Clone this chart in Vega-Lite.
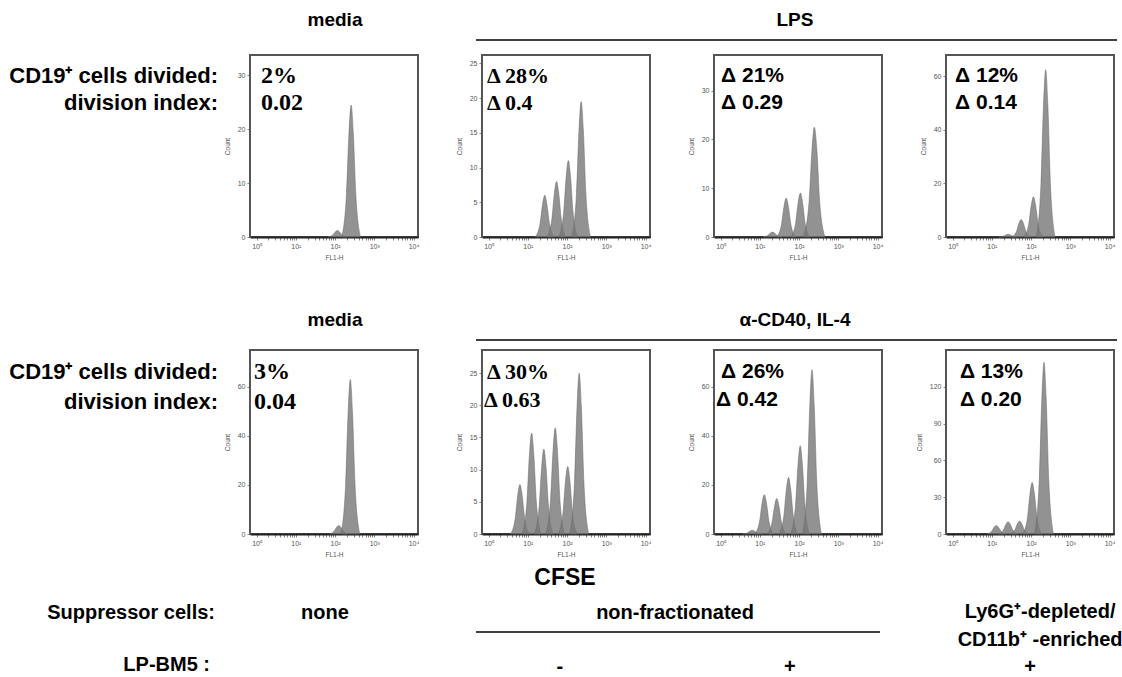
{
"$schema": "https://vega.github.io/schema/vega-lite/v6.json",
"padding": 0,
"background": "white",
"bounds": "flush",
"align": "each",
"columns": 5,
"spacing": {"row": 0, "column": 64},
"config": {
 "view": {"stroke": null},
 "axis": {"grid": false, "labelFont": "Liberation Sans", "labelFontSize": 7, "labelColor": "#555", "tickColor": "#666", "tickSize": 3, "tickWidth": 0.8, "domainColor": "#555", "titleFont": "Liberation Sans", "titleFontSize": 6.5, "titleFontWeight": "normal", "titleColor": "#555", "labelPadding": 2},
 "axisX": {"domainColor": "#222", "domainWidth": 2, "titlePadding": 5, "labelOverlap": false},
 "axisY": {"titlePadding": 7},
 "text": {"font": "Liberation Sans Narrow, Arial Narrow, Liberation Sans", "fontWeight": "bold", "color": "#000", "baseline": "middle"}
},
"datasets": {
 "h": [
 {"p":"a1","g":0,"x":66.1,"y":0},{"p":"a1","g":0,"x":87.3,"y":0.38},{"p":"a1","g":0,"x":101.3,"y":0.95},{"p":"a1","g":0,"x":115,"y":1.2},{"p":"a1","g":0,"x":130.5,"y":0.95},{"p":"a1","g":0,"x":151.6,"y":0.38},{"p":"a1","g":0,"x":199.9,"y":0},
 {"p":"a1","g":1,"x":147.8,"y":0},{"p":"a1","g":1,"x":195.1,"y":7.84},{"p":"a1","g":1,"x":226.4,"y":19.36},{"p":"a1","g":1,"x":257,"y":24.5},{"p":"a1","g":1,"x":291.7,"y":19.36},{"p":"a1","g":1,"x":338.7,"y":7.84},{"p":"a1","g":1,"x":446.7,"y":0},
 {"p":"a2","g":1,"x":15.5,"y":0},{"p":"a2","g":1,"x":20.5,"y":1.92},{"p":"a2","g":1,"x":23.8,"y":4.74},{"p":"a2","g":1,"x":27,"y":6},{"p":"a2","g":1,"x":30.6,"y":4.74},{"p":"a2","g":1,"x":35.6,"y":1.92},{"p":"a2","g":1,"x":46.9,"y":0},
 {"p":"a2","g":2,"x":31.1,"y":0},{"p":"a2","g":2,"x":41,"y":2.56},{"p":"a2","g":2,"x":47.6,"y":6.32},{"p":"a2","g":2,"x":54,"y":8},{"p":"a2","g":2,"x":61.3,"y":6.32},{"p":"a2","g":2,"x":71.2,"y":2.56},{"p":"a2","g":2,"x":93.9,"y":0},
 {"p":"a2","g":3,"x":62.1,"y":0},{"p":"a2","g":3,"x":82,"y":3.52},{"p":"a2","g":3,"x":95.1,"y":8.69},{"p":"a2","g":3,"x":108,"y":11},{"p":"a2","g":3,"x":122.6,"y":8.69},{"p":"a2","g":3,"x":142.3,"y":3.52},{"p":"a2","g":3,"x":187.7,"y":0},
 {"p":"a2","g":4,"x":131.7,"y":0},{"p":"a2","g":4,"x":173.8,"y":6.24},{"p":"a2","g":4,"x":201.7,"y":15.41},{"p":"a2","g":4,"x":229,"y":19.5},{"p":"a2","g":4,"x":259.9,"y":15.41},{"p":"a2","g":4,"x":301.8,"y":6.24},{"p":"a2","g":4,"x":398,"y":0},
 {"p":"a3","g":1,"x":12.1,"y":0},{"p":"a3","g":1,"x":15.9,"y":0.32},{"p":"a3","g":1,"x":18.5,"y":0.79},{"p":"a3","g":1,"x":21,"y":1},{"p":"a3","g":1,"x":23.8,"y":0.79},{"p":"a3","g":1,"x":27.7,"y":0.32},{"p":"a3","g":1,"x":36.5,"y":0},
 {"p":"a3","g":2,"x":27,"y":0},{"p":"a3","g":2,"x":35.7,"y":2.56},{"p":"a3","g":2,"x":41.4,"y":6.32},{"p":"a3","g":2,"x":47,"y":8},{"p":"a3","g":2,"x":53.3,"y":6.32},{"p":"a3","g":2,"x":61.9,"y":2.56},{"p":"a3","g":2,"x":81.7,"y":0},
 {"p":"a3","g":3,"x":62.1,"y":0},{"p":"a3","g":3,"x":82,"y":2.88},{"p":"a3","g":3,"x":95.1,"y":7.11},{"p":"a3","g":3,"x":108,"y":9},{"p":"a3","g":3,"x":122.6,"y":7.11},{"p":"a3","g":3,"x":142.3,"y":2.88},{"p":"a3","g":3,"x":187.7,"y":0},
 {"p":"a3","g":4,"x":130,"y":0},{"p":"a3","g":4,"x":180,"y":7.2},{"p":"a3","g":4,"x":213,"y":17.78},{"p":"a3","g":4,"x":245,"y":22.5},{"p":"a3","g":4,"x":285,"y":17.78},{"p":"a3","g":4,"x":335,"y":7.2},{"p":"a3","g":4,"x":460,"y":0},
 {"p":"a4","g":1,"x":15,"y":0},{"p":"a4","g":1,"x":19.7,"y":0.32},{"p":"a4","g":1,"x":22.9,"y":0.79},{"p":"a4","g":1,"x":26,"y":1},{"p":"a4","g":1,"x":29.5,"y":0.79},{"p":"a4","g":1,"x":34.3,"y":0.32},{"p":"a4","g":1,"x":45.2,"y":0},
 {"p":"a4","g":2,"x":32.2,"y":0},{"p":"a4","g":2,"x":42.5,"y":2.08},{"p":"a4","g":2,"x":49.3,"y":5.14},{"p":"a4","g":2,"x":56,"y":6.5},{"p":"a4","g":2,"x":63.6,"y":5.14},{"p":"a4","g":2,"x":73.8,"y":2.08},{"p":"a4","g":2,"x":97.3,"y":0},
 {"p":"a4","g":3,"x":66.1,"y":0},{"p":"a4","g":3,"x":87.3,"y":4.8},{"p":"a4","g":3,"x":101.3,"y":11.85},{"p":"a4","g":3,"x":115,"y":15},{"p":"a4","g":3,"x":130.5,"y":11.85},{"p":"a4","g":3,"x":151.6,"y":4.8},{"p":"a4","g":3,"x":199.9,"y":0},
 {"p":"a4","g":4,"x":135.7,"y":0},{"p":"a4","g":4,"x":179.1,"y":20},{"p":"a4","g":4,"x":207.9,"y":49.38},{"p":"a4","g":4,"x":236,"y":62.5},{"p":"a4","g":4,"x":267.9,"y":49.38},{"p":"a4","g":4,"x":311,"y":20},{"p":"a4","g":4,"x":410.2,"y":0},
 {"p":"b1","g":0,"x":71.3,"y":0},{"p":"b1","g":0,"x":94.1,"y":1.12},{"p":"b1","g":0,"x":109.2,"y":2.77},{"p":"b1","g":0,"x":124,"y":3.5},{"p":"b1","g":0,"x":140.7,"y":2.77},{"p":"b1","g":0,"x":163.4,"y":1.12},{"p":"b1","g":0,"x":215.5,"y":0},
 {"p":"b1","g":1,"x":140.9,"y":0},{"p":"b1","g":1,"x":186,"y":20.16},{"p":"b1","g":1,"x":215.8,"y":49.77},{"p":"b1","g":1,"x":245,"y":63},{"p":"b1","g":1,"x":278.1,"y":49.77},{"p":"b1","g":1,"x":322.9,"y":20.16},{"p":"b1","g":1,"x":425.8,"y":0},
 {"p":"b2","g":1,"x":3.62,"y":0},{"p":"b2","g":1,"x":4.78,"y":2.46},{"p":"b2","g":1,"x":5.55,"y":6.08},{"p":"b2","g":1,"x":6.3,"y":7.7},{"p":"b2","g":1,"x":7.15,"y":6.08},{"p":"b2","g":1,"x":8.3,"y":2.46},{"p":"b2","g":1,"x":10.95,"y":0},
 {"p":"b2","g":2,"x":7.19,"y":0},{"p":"b2","g":2,"x":9.49,"y":5.02},{"p":"b2","g":2,"x":11.01,"y":12.4},{"p":"b2","g":2,"x":12.5,"y":15.7},{"p":"b2","g":2,"x":14.19,"y":12.4},{"p":"b2","g":2,"x":16.48,"y":5.02},{"p":"b2","g":2,"x":21.73,"y":0},
 {"p":"b2","g":3,"x":14.72,"y":0},{"p":"b2","g":3,"x":19.43,"y":4.22},{"p":"b2","g":3,"x":22.55,"y":10.43},{"p":"b2","g":3,"x":25.6,"y":13.2},{"p":"b2","g":3,"x":29.06,"y":10.43},{"p":"b2","g":3,"x":33.74,"y":4.22},{"p":"b2","g":3,"x":44.49,"y":0},
 {"p":"b2","g":4,"x":28.75,"y":0},{"p":"b2","g":4,"x":37.95,"y":5.28},{"p":"b2","g":4,"x":44.05,"y":13.04},{"p":"b2","g":4,"x":50,"y":16.5},{"p":"b2","g":4,"x":56.75,"y":13.04},{"p":"b2","g":4,"x":65.9,"y":5.28},{"p":"b2","g":4,"x":86.9,"y":0},
 {"p":"b2","g":5,"x":59.8,"y":0},{"p":"b2","g":5,"x":78.9,"y":3.36},{"p":"b2","g":5,"x":91.6,"y":8.3},{"p":"b2","g":5,"x":104,"y":10.5},{"p":"b2","g":5,"x":118,"y":8.3},{"p":"b2","g":5,"x":137.1,"y":3.36},{"p":"b2","g":5,"x":180.8,"y":0},
 {"p":"b2","g":6,"x":117.3,"y":0},{"p":"b2","g":6,"x":154.8,"y":8},{"p":"b2","g":6,"x":179.7,"y":19.75},{"p":"b2","g":6,"x":204,"y":25},{"p":"b2","g":6,"x":231.5,"y":19.75},{"p":"b2","g":6,"x":268.9,"y":8},{"p":"b2","g":6,"x":354.6,"y":0},
 {"p":"b3","g":1,"x":3.68,"y":0},{"p":"b3","g":1,"x":4.86,"y":0.48},{"p":"b3","g":1,"x":5.64,"y":1.19},{"p":"b3","g":1,"x":6.4,"y":1.5},{"p":"b3","g":1,"x":7.26,"y":1.19},{"p":"b3","g":1,"x":8.44,"y":0.48},{"p":"b3","g":1,"x":11.12,"y":0},
 {"p":"b3","g":2,"x":7.48,"y":0},{"p":"b3","g":2,"x":9.87,"y":5.12},{"p":"b3","g":2,"x":11.45,"y":12.64},{"p":"b3","g":2,"x":13,"y":16},{"p":"b3","g":2,"x":14.76,"y":12.64},{"p":"b3","g":2,"x":17.13,"y":5.12},{"p":"b3","g":2,"x":22.59,"y":0},
 {"p":"b3","g":3,"x":15.53,"y":0},{"p":"b3","g":3,"x":20.49,"y":4.64},{"p":"b3","g":3,"x":23.79,"y":11.46},{"p":"b3","g":3,"x":27,"y":14.5},{"p":"b3","g":3,"x":30.65,"y":11.46},{"p":"b3","g":3,"x":35.59,"y":4.64},{"p":"b3","g":3,"x":46.93,"y":0},
 {"p":"b3","g":4,"x":31.05,"y":0},{"p":"b3","g":4,"x":40.99,"y":7.36},{"p":"b3","g":4,"x":47.57,"y":18.17},{"p":"b3","g":4,"x":54,"y":23},{"p":"b3","g":4,"x":61.29,"y":18.17},{"p":"b3","g":4,"x":71.17,"y":7.36},{"p":"b3","g":4,"x":93.85,"y":0},
 {"p":"b3","g":5,"x":61.5,"y":0},{"p":"b3","g":5,"x":81.2,"y":11.52},{"p":"b3","g":5,"x":94.3,"y":28.44},{"p":"b3","g":5,"x":107,"y":36},{"p":"b3","g":5,"x":121.4,"y":28.44},{"p":"b3","g":5,"x":141,"y":11.52},{"p":"b3","g":5,"x":186,"y":0},
 {"p":"b3","g":6,"x":123.1,"y":0},{"p":"b3","g":6,"x":162.4,"y":21.44},{"p":"b3","g":6,"x":188.5,"y":52.93},{"p":"b3","g":6,"x":214,"y":67},{"p":"b3","g":6,"x":242.9,"y":52.93},{"p":"b3","g":6,"x":282.1,"y":21.44},{"p":"b3","g":6,"x":371.9,"y":0},
 {"p":"b4","g":1,"x":7.48,"y":0},{"p":"b4","g":1,"x":9.87,"y":2.24},{"p":"b4","g":1,"x":11.45,"y":5.53},{"p":"b4","g":1,"x":13,"y":7},{"p":"b4","g":1,"x":14.76,"y":5.53},{"p":"b4","g":1,"x":17.13,"y":2.24},{"p":"b4","g":1,"x":22.59,"y":0},
 {"p":"b4","g":2,"x":14.95,"y":0},{"p":"b4","g":2,"x":19.73,"y":3.2},{"p":"b4","g":2,"x":22.91,"y":7.9},{"p":"b4","g":2,"x":26,"y":10},{"p":"b4","g":2,"x":29.51,"y":7.9},{"p":"b4","g":2,"x":34.27,"y":3.2},{"p":"b4","g":2,"x":45.19,"y":0},
 {"p":"b4","g":3,"x":29.3,"y":0},{"p":"b4","g":3,"x":38.7,"y":3.36},{"p":"b4","g":3,"x":44.9,"y":8.3},{"p":"b4","g":3,"x":51,"y":10.5},{"p":"b4","g":3,"x":57.9,"y":8.3},{"p":"b4","g":3,"x":67.2,"y":3.36},{"p":"b4","g":3,"x":88.6,"y":0},
 {"p":"b4","g":4,"x":61.5,"y":0},{"p":"b4","g":4,"x":81.2,"y":13.44},{"p":"b4","g":4,"x":94.3,"y":33.18},{"p":"b4","g":4,"x":107,"y":42},{"p":"b4","g":4,"x":121.4,"y":33.18},{"p":"b4","g":4,"x":141,"y":13.44},{"p":"b4","g":4,"x":186,"y":0},
 {"p":"b4","g":5,"x":123.1,"y":0},{"p":"b4","g":5,"x":162.4,"y":44.8},{"p":"b4","g":5,"x":188.5,"y":110.6},{"p":"b4","g":5,"x":214,"y":140},{"p":"b4","g":5,"x":242.9,"y":110.6},{"p":"b4","g":5,"x":282.1,"y":44.8},{"p":"b4","g":5,"x":371.9,"y":0}
 ],
 "ann": [
 {"p":"a1","pct":"2%","di":"0.02"},{"p":"a2","pct":"Δ 28%","di":"Δ 0.4"},{"p":"a3","pct":"Δ 21%","di":"Δ 0.29"},{"p":"a4","pct":"Δ 12%","di":"Δ 0.14"},
 {"p":"b1","pct":"3%","di":"0.04"},{"p":"b2","pct":"Δ 30%","di":"Δ 0.63"},{"p":"b3","pct":"Δ 26%","di":"Δ 0.42"},{"p":"b4","pct":"Δ 13%","di":"Δ 0.20"}
 ],
 "txt": [
 {"id":"m1","t":"media"},{"id":"lps","t":"LPS"},{"id":"m2","t":"media"},{"id":"cd40","t":"α-CD40, IL-4"},
 {"id":"lab","a":"CD19⁺ cells divided:","b":"division index:"},
 {"id":"cfse","t":"CFSE"},{"id":"sup","t":"Suppressor cells:"},{"id":"none","t":"none"},{"id":"nf","t":"non-fractionated"},
 {"id":"ly","t":"Ly6G⁺-depleted/"},{"id":"cd11","t":"CD11b⁺ -enriched"},{"id":"lp","t":"LP-BM5 :"},
 {"id":"minus","t":"-"},{"id":"plus1","t":"+"},{"id":"plus2","t":"+"}
 ]
},
"concat": [
 {"width": 186, "height": 55, "data": {"name": "txt"}, "transform": [{"filter": "datum.id == 'nothing'"}], "mark": "text", "encoding": {}},
 {"width": 168, "height": 55, "data": {"name": "txt"}, "transform": [{"filter": "datum.id == 'm1'"}],
  "mark": {"type": "text", "fontSize": 19},
  "encoding": {"text": {"field": "t"}, "x": {"datum": 0.506, "type": "quantitative", "scale": {"domain": [0, 1]}, "axis": null}, "y": {"datum": 0.636, "type": "quantitative", "scale": {"domain": [0, 1]}, "axis": null}}},
 {"width": 168, "height": 55, "data": {"name": "txt"}, "transform": [{"filter": "datum.id == 'lps'"}],
  "layer": [
   {"mark": {"type": "text", "fontSize": 19},
    "encoding": {"text": {"field": "t"}, "x": {"datum": 1.863, "type": "quantitative", "scale": {"domain": [0, 1]}, "axis": null}, "y": {"datum": 0.636, "type": "quantitative", "scale": {"domain": [0, 1]}, "axis": null}}},
   {"mark": {"type": "rule", "color": "#000", "strokeWidth": 1.5},
    "encoding": {"x": {"datum": -0.036, "type": "quantitative", "scale": {"domain": [0, 1]}, "axis": null}, "x2": {"datum": 3.78}, "y": {"datum": 0.273, "type": "quantitative", "scale": {"domain": [0, 1]}, "axis": null}}}
  ]},
 {"width": 168, "height": 55, "data": {"name": "txt"}, "transform": [{"filter": "datum.id == 'nothing'"}], "mark": "text", "encoding": {}},
 {"width": 168, "height": 55, "data": {"name": "txt"}, "transform": [{"filter": "datum.id == 'nothing'"}], "mark": "text", "encoding": {}},

 {"width": 186, "height": 182, "data": {"name": "txt"}, "transform": [{"filter": "datum.id == 'lab'"}],
  "layer": [
   {"mark": {"type": "text", "fontSize": 22, "align": "right"},
    "encoding": {"text": {"field": "a"}, "x": {"datum": 1.172, "type": "quantitative", "scale": {"domain": [0, 1]}, "axis": null}, "y": {"datum": 0.885, "type": "quantitative", "scale": {"domain": [0, 1]}, "axis": null}}},
   {"mark": {"type": "text", "fontSize": 22, "align": "right"},
    "encoding": {"text": {"field": "b"}, "x": {"datum": 1.172, "type": "quantitative", "scale": {"domain": [0, 1]}, "axis": null}, "y": {"datum": 0.736, "type": "quantitative", "scale": {"domain": [0, 1]}, "axis": null}}}
  ]},
 {"width": 168, "height": 182, "view": {"stroke": "#555", "strokeWidth": 2},
  "layer": [
   {"data": {"name": "h"}, "transform": [{"filter": "datum.p == 'a1'"}],
    "mark": {"type": "area", "interpolate": "monotone", "fill": "#777", "fillOpacity": 0.8, "stroke": "#666", "strokeWidth": 0.5},
    "encoding": {
     "x": {"field": "x", "type": "quantitative", "scale": {"type": "log", "domain": [0.68, 13000], "nice": false}, "axis": {"title": "FL1-H", "values": [1,2,3,4,5,6,7,8,9,10,20,30,40,50,60,70,80,90,100,200,300,400,500,600,700,800,900,1000,2000,3000,4000,5000,6000,7000,8000,9000,10000], "labelExpr": "datum.value == 1 ? '10⁰' : datum.value == 10 ? '10¹' : datum.value == 100 ? '10²' : datum.value == 1000 ? '10³' : datum.value == 10000 ? '10⁴' : ''"}},
     "y": {"field": "y", "type": "quantitative", "stack": null, "scale": {"domain": [0, 33.8], "nice": false}, "axis": {"title": "Count", "values": [0, 10, 20, 30]}},
     "detail": {"field": "g"}}},
   {"data": {"name": "ann"}, "transform": [{"filter": "datum.p == 'a1'"}],
    "mark": {"type": "text", "align": "left", "font": "Liberation Serif", "fontSize": 24},
    "encoding": {"text": {"field": "pct"}, "x": {"datum": 0.065, "type": "quantitative", "scale": {"domain": [0, 1]}, "axis": null}, "y": {"datum": 0.885, "type": "quantitative", "scale": {"domain": [0, 1]}, "axis": null}}},
   {"data": {"name": "ann"}, "transform": [{"filter": "datum.p == 'a1'"}],
    "mark": {"type": "text", "align": "left", "font": "Liberation Serif", "fontSize": 24},
    "encoding": {"text": {"field": "di"}, "x": {"datum": 0.065, "type": "quantitative", "scale": {"domain": [0, 1]}, "axis": null}, "y": {"datum": 0.736, "type": "quantitative", "scale": {"domain": [0, 1]}, "axis": null}}}
  ],
  "resolve": {"scale": {"x": "independent", "y": "independent"}}},
 {"width": 168, "height": 182, "view": {"stroke": "#555", "strokeWidth": 2},
  "layer": [
   {"data": {"name": "h"}, "transform": [{"filter": "datum.p == 'a2'"}],
    "mark": {"type": "area", "interpolate": "monotone", "fill": "#777", "fillOpacity": 0.8, "stroke": "#666", "strokeWidth": 0.5},
    "encoding": {
     "x": {"field": "x", "type": "quantitative", "scale": {"type": "log", "domain": [0.68, 13000], "nice": false}, "axis": {"title": "FL1-H", "values": [1,2,3,4,5,6,7,8,9,10,20,30,40,50,60,70,80,90,100,200,300,400,500,600,700,800,900,1000,2000,3000,4000,5000,6000,7000,8000,9000,10000], "labelExpr": "datum.value == 1 ? '10⁰' : datum.value == 10 ? '10¹' : datum.value == 100 ? '10²' : datum.value == 1000 ? '10³' : datum.value == 10000 ? '10⁴' : ''"}},
     "y": {"field": "y", "type": "quantitative", "stack": null, "scale": {"domain": [0, 26.2], "nice": false}, "axis": {"title": "Count", "values": [0, 5, 10, 15, 20, 25]}},
     "detail": {"field": "g"}}},
   {"data": {"name": "ann"}, "transform": [{"filter": "datum.p == 'a2'"}],
    "mark": {"type": "text", "align": "left", "font": "Liberation Serif", "fontSize": 22},
    "encoding": {"text": {"field": "pct"}, "x": {"datum": 0.03, "type": "quantitative", "scale": {"domain": [0, 1]}, "axis": null}, "y": {"datum": 0.885, "type": "quantitative", "scale": {"domain": [0, 1]}, "axis": null}}},
   {"data": {"name": "ann"}, "transform": [{"filter": "datum.p == 'a2'"}],
    "mark": {"type": "text", "align": "left", "font": "Liberation Serif", "fontSize": 22},
    "encoding": {"text": {"field": "di"}, "x": {"datum": 0.03, "type": "quantitative", "scale": {"domain": [0, 1]}, "axis": null}, "y": {"datum": 0.736, "type": "quantitative", "scale": {"domain": [0, 1]}, "axis": null}}}
  ],
  "resolve": {"scale": {"x": "independent", "y": "independent"}}},
 {"width": 168, "height": 182, "view": {"stroke": "#555", "strokeWidth": 2},
  "layer": [
   {"data": {"name": "h"}, "transform": [{"filter": "datum.p == 'a3'"}],
    "mark": {"type": "area", "interpolate": "monotone", "fill": "#777", "fillOpacity": 0.8, "stroke": "#666", "strokeWidth": 0.5},
    "encoding": {
     "x": {"field": "x", "type": "quantitative", "scale": {"type": "log", "domain": [0.68, 13000], "nice": false}, "axis": {"title": "FL1-H", "values": [1,2,3,4,5,6,7,8,9,10,20,30,40,50,60,70,80,90,100,200,300,400,500,600,700,800,900,1000,2000,3000,4000,5000,6000,7000,8000,9000,10000], "labelExpr": "datum.value == 1 ? '10⁰' : datum.value == 10 ? '10¹' : datum.value == 100 ? '10²' : datum.value == 1000 ? '10³' : datum.value == 10000 ? '10⁴' : ''"}},
     "y": {"field": "y", "type": "quantitative", "stack": null, "scale": {"domain": [0, 37.3], "nice": false}, "axis": {"title": "Count", "values": [0, 10, 20, 30]}},
     "detail": {"field": "g"}}},
   {"data": {"name": "ann"}, "transform": [{"filter": "datum.p == 'a3'"}],
    "mark": {"type": "text", "align": "left", "font": "Liberation Sans", "fontSize": 21},
    "encoding": {"text": {"field": "pct"}, "x": {"datum": 0.042, "type": "quantitative", "scale": {"domain": [0, 1]}, "axis": null}, "y": {"datum": 0.885, "type": "quantitative", "scale": {"domain": [0, 1]}, "axis": null}}},
   {"data": {"name": "ann"}, "transform": [{"filter": "datum.p == 'a3'"}],
    "mark": {"type": "text", "align": "left", "font": "Liberation Sans", "fontSize": 21},
    "encoding": {"text": {"field": "di"}, "x": {"datum": 0.042, "type": "quantitative", "scale": {"domain": [0, 1]}, "axis": null}, "y": {"datum": 0.736, "type": "quantitative", "scale": {"domain": [0, 1]}, "axis": null}}}
  ],
  "resolve": {"scale": {"x": "independent", "y": "independent"}}},
 {"width": 168, "height": 182, "view": {"stroke": "#555", "strokeWidth": 2},
  "layer": [
   {"data": {"name": "h"}, "transform": [{"filter": "datum.p == 'a4'"}],
    "mark": {"type": "area", "interpolate": "monotone", "fill": "#777", "fillOpacity": 0.8, "stroke": "#666", "strokeWidth": 0.5},
    "encoding": {
     "x": {"field": "x", "type": "quantitative", "scale": {"type": "log", "domain": [0.68, 13000], "nice": false}, "axis": {"title": "FL1-H", "values": [1,2,3,4,5,6,7,8,9,10,20,30,40,50,60,70,80,90,100,200,300,400,500,600,700,800,900,1000,2000,3000,4000,5000,6000,7000,8000,9000,10000], "labelExpr": "datum.value == 1 ? '10⁰' : datum.value == 10 ? '10¹' : datum.value == 100 ? '10²' : datum.value == 1000 ? '10³' : datum.value == 10000 ? '10⁴' : ''"}},
     "y": {"field": "y", "type": "quantitative", "stack": null, "scale": {"domain": [0, 68], "nice": false}, "axis": {"title": "Count", "values": [0, 20, 40, 60]}},
     "detail": {"field": "g"}}},
   {"data": {"name": "ann"}, "transform": [{"filter": "datum.p == 'a4'"}],
    "mark": {"type": "text", "align": "left", "font": "Liberation Sans", "fontSize": 21},
    "encoding": {"text": {"field": "pct"}, "x": {"datum": 0.054, "type": "quantitative", "scale": {"domain": [0, 1]}, "axis": null}, "y": {"datum": 0.885, "type": "quantitative", "scale": {"domain": [0, 1]}, "axis": null}}},
   {"data": {"name": "ann"}, "transform": [{"filter": "datum.p == 'a4'"}],
    "mark": {"type": "text", "align": "left", "font": "Liberation Sans", "fontSize": 21},
    "encoding": {"text": {"field": "di"}, "x": {"datum": 0.054, "type": "quantitative", "scale": {"domain": [0, 1]}, "axis": null}, "y": {"datum": 0.736, "type": "quantitative", "scale": {"domain": [0, 1]}, "axis": null}}}
  ],
  "resolve": {"scale": {"x": "independent", "y": "independent"}}},

 {"width": 186, "height": 113, "data": {"name": "txt"}, "transform": [{"filter": "datum.id == 'nothing'"}], "mark": "text", "encoding": {}},
 {"width": 168, "height": 113, "data": {"name": "txt"}, "transform": [{"filter": "datum.id == 'm2'"}],
  "mark": {"type": "text", "fontSize": 19},
  "encoding": {"text": {"field": "t"}, "x": {"datum": 0.506, "type": "quantitative", "scale": {"domain": [0, 1]}, "axis": null}, "y": {"datum": 0.265, "type": "quantitative", "scale": {"domain": [0, 1]}, "axis": null}}},
 {"width": 168, "height": 113, "data": {"name": "txt"}, "transform": [{"filter": "datum.id == 'cd40'"}],
  "layer": [
   {"mark": {"type": "text", "fontSize": 19},
    "encoding": {"text": {"field": "t"}, "x": {"datum": 1.863, "type": "quantitative", "scale": {"domain": [0, 1]}, "axis": null}, "y": {"datum": 0.265, "type": "quantitative", "scale": {"domain": [0, 1]}, "axis": null}}},
   {"mark": {"type": "rule", "color": "#000", "strokeWidth": 1.5},
    "encoding": {"x": {"datum": -0.036, "type": "quantitative", "scale": {"domain": [0, 1]}, "axis": null}, "x2": {"datum": 3.78}, "y": {"datum": 0.088, "type": "quantitative", "scale": {"domain": [0, 1]}, "axis": null}}}
  ]},
 {"width": 168, "height": 113, "data": {"name": "txt"}, "transform": [{"filter": "datum.id == 'nothing'"}], "mark": "text", "encoding": {}},
 {"width": 168, "height": 113, "data": {"name": "txt"}, "transform": [{"filter": "datum.id == 'nothing'"}], "mark": "text", "encoding": {}},

 {"width": 186, "height": 184, "data": {"name": "txt"}, "transform": [{"filter": "datum.id == 'lab'"}],
  "layer": [
   {"mark": {"type": "text", "fontSize": 22, "align": "right"},
    "encoding": {"text": {"field": "a"}, "x": {"datum": 1.172, "type": "quantitative", "scale": {"domain": [0, 1]}, "axis": null}, "y": {"datum": 0.88, "type": "quantitative", "scale": {"domain": [0, 1]}, "axis": null}}},
   {"mark": {"type": "text", "fontSize": 22, "align": "right"},
    "encoding": {"text": {"field": "b"}, "x": {"datum": 1.172, "type": "quantitative", "scale": {"domain": [0, 1]}, "axis": null}, "y": {"datum": 0.717, "type": "quantitative", "scale": {"domain": [0, 1]}, "axis": null}}}
  ]},
 {"width": 168, "height": 184, "view": {"stroke": "#555", "strokeWidth": 2},
  "layer": [
   {"data": {"name": "h"}, "transform": [{"filter": "datum.p == 'b1'"}],
    "mark": {"type": "area", "interpolate": "monotone", "fill": "#777", "fillOpacity": 0.8, "stroke": "#666", "strokeWidth": 0.5},
    "encoding": {
     "x": {"field": "x", "type": "quantitative", "scale": {"type": "log", "domain": [0.68, 13000], "nice": false}, "axis": {"title": "FL1-H", "values": [1,2,3,4,5,6,7,8,9,10,20,30,40,50,60,70,80,90,100,200,300,400,500,600,700,800,900,1000,2000,3000,4000,5000,6000,7000,8000,9000,10000], "labelExpr": "datum.value == 1 ? '10⁰' : datum.value == 10 ? '10¹' : datum.value == 100 ? '10²' : datum.value == 1000 ? '10³' : datum.value == 10000 ? '10⁴' : ''"}},
     "y": {"field": "y", "type": "quantitative", "stack": null, "scale": {"domain": [0, 75], "nice": false}, "axis": {"title": "Count", "values": [0, 20, 40, 60]}},
     "detail": {"field": "g"}}},
   {"data": {"name": "ann"}, "transform": [{"filter": "datum.p == 'b1'"}],
    "mark": {"type": "text", "align": "left", "font": "Liberation Serif", "fontSize": 24},
    "encoding": {"text": {"field": "pct"}, "x": {"datum": 0.024, "type": "quantitative", "scale": {"domain": [0, 1]}, "axis": null}, "y": {"datum": 0.88, "type": "quantitative", "scale": {"domain": [0, 1]}, "axis": null}}},
   {"data": {"name": "ann"}, "transform": [{"filter": "datum.p == 'b1'"}],
    "mark": {"type": "text", "align": "left", "font": "Liberation Serif", "fontSize": 24},
    "encoding": {"text": {"field": "di"}, "x": {"datum": 0.024, "type": "quantitative", "scale": {"domain": [0, 1]}, "axis": null}, "y": {"datum": 0.72, "type": "quantitative", "scale": {"domain": [0, 1]}, "axis": null}}}
  ],
  "resolve": {"scale": {"x": "independent", "y": "independent"}}},
 {"width": 168, "height": 184, "view": {"stroke": "#555", "strokeWidth": 2},
  "layer": [
   {"data": {"name": "h"}, "transform": [{"filter": "datum.p == 'b2'"}],
    "mark": {"type": "area", "interpolate": "monotone", "fill": "#777", "fillOpacity": 0.8, "stroke": "#666", "strokeWidth": 0.5},
    "encoding": {
     "x": {"field": "x", "type": "quantitative", "scale": {"type": "log", "domain": [0.68, 13000], "nice": false}, "axis": {"title": "FL1-H", "values": [1,2,3,4,5,6,7,8,9,10,20,30,40,50,60,70,80,90,100,200,300,400,500,600,700,800,900,1000,2000,3000,4000,5000,6000,7000,8000,9000,10000], "labelExpr": "datum.value == 1 ? '10⁰' : datum.value == 10 ? '10¹' : datum.value == 100 ? '10²' : datum.value == 1000 ? '10³' : datum.value == 10000 ? '10⁴' : ''"}},
     "y": {"field": "y", "type": "quantitative", "stack": null, "scale": {"domain": [0, 28.6], "nice": false}, "axis": {"title": "Count", "values": [0, 5, 10, 15, 20, 25]}},
     "detail": {"field": "g"}}},
   {"data": {"name": "ann"}, "transform": [{"filter": "datum.p == 'b2'"}],
    "mark": {"type": "text", "align": "left", "font": "Liberation Serif", "fontSize": 22},
    "encoding": {"text": {"field": "pct"}, "x": {"datum": 0.03, "type": "quantitative", "scale": {"domain": [0, 1]}, "axis": null}, "y": {"datum": 0.88, "type": "quantitative", "scale": {"domain": [0, 1]}, "axis": null}}},
   {"data": {"name": "ann"}, "transform": [{"filter": "datum.p == 'b2'"}],
    "mark": {"type": "text", "align": "left", "font": "Liberation Serif", "fontSize": 22},
    "encoding": {"text": {"field": "di"}, "x": {"datum": 0.012, "type": "quantitative", "scale": {"domain": [0, 1]}, "axis": null}, "y": {"datum": 0.728, "type": "quantitative", "scale": {"domain": [0, 1]}, "axis": null}}}
  ],
  "resolve": {"scale": {"x": "independent", "y": "independent"}}},
 {"width": 168, "height": 184, "view": {"stroke": "#555", "strokeWidth": 2},
  "layer": [
   {"data": {"name": "h"}, "transform": [{"filter": "datum.p == 'b3'"}],
    "mark": {"type": "area", "interpolate": "monotone", "fill": "#777", "fillOpacity": 0.8, "stroke": "#666", "strokeWidth": 0.5},
    "encoding": {
     "x": {"field": "x", "type": "quantitative", "scale": {"type": "log", "domain": [0.68, 13000], "nice": false}, "axis": {"title": "FL1-H", "values": [1,2,3,4,5,6,7,8,9,10,20,30,40,50,60,70,80,90,100,200,300,400,500,600,700,800,900,1000,2000,3000,4000,5000,6000,7000,8000,9000,10000], "labelExpr": "datum.value == 1 ? '10⁰' : datum.value == 10 ? '10¹' : datum.value == 100 ? '10²' : datum.value == 1000 ? '10³' : datum.value == 10000 ? '10⁴' : ''"}},
     "y": {"field": "y", "type": "quantitative", "stack": null, "scale": {"domain": [0, 75], "nice": false}, "axis": {"title": "Count", "values": [0, 20, 40, 60]}},
     "detail": {"field": "g"}}},
   {"data": {"name": "ann"}, "transform": [{"filter": "datum.p == 'b3'"}],
    "mark": {"type": "text", "align": "left", "font": "Liberation Sans", "fontSize": 21},
    "encoding": {"text": {"field": "pct"}, "x": {"datum": 0.042, "type": "quantitative", "scale": {"domain": [0, 1]}, "axis": null}, "y": {"datum": 0.88, "type": "quantitative", "scale": {"domain": [0, 1]}, "axis": null}}},
   {"data": {"name": "ann"}, "transform": [{"filter": "datum.p == 'b3'"}],
    "mark": {"type": "text", "align": "left", "font": "Liberation Sans", "fontSize": 21},
    "encoding": {"text": {"field": "di"}, "x": {"datum": 0.012, "type": "quantitative", "scale": {"domain": [0, 1]}, "axis": null}, "y": {"datum": 0.728, "type": "quantitative", "scale": {"domain": [0, 1]}, "axis": null}}}
  ],
  "resolve": {"scale": {"x": "independent", "y": "independent"}}},
 {"width": 168, "height": 184, "view": {"stroke": "#555", "strokeWidth": 2},
  "layer": [
   {"data": {"name": "h"}, "transform": [{"filter": "datum.p == 'b4'"}],
    "mark": {"type": "area", "interpolate": "monotone", "fill": "#777", "fillOpacity": 0.8, "stroke": "#666", "strokeWidth": 0.5},
    "encoding": {
     "x": {"field": "x", "type": "quantitative", "scale": {"type": "log", "domain": [0.68, 13000], "nice": false}, "axis": {"title": "FL1-H", "values": [1,2,3,4,5,6,7,8,9,10,20,30,40,50,60,70,80,90,100,200,300,400,500,600,700,800,900,1000,2000,3000,4000,5000,6000,7000,8000,9000,10000], "labelExpr": "datum.value == 1 ? '10⁰' : datum.value == 10 ? '10¹' : datum.value == 100 ? '10²' : datum.value == 1000 ? '10³' : datum.value == 10000 ? '10⁴' : ''"}},
     "y": {"field": "y", "type": "quantitative", "stack": null, "scale": {"domain": [0, 150], "nice": false}, "axis": {"title": "Count", "values": [0, 30, 60, 90, 120]}},
     "detail": {"field": "g"}}},
   {"data": {"name": "ann"}, "transform": [{"filter": "datum.p == 'b4'"}],
    "mark": {"type": "text", "align": "left", "font": "Liberation Sans", "fontSize": 21},
    "encoding": {"text": {"field": "pct"}, "x": {"datum": 0.083, "type": "quantitative", "scale": {"domain": [0, 1]}, "axis": null}, "y": {"datum": 0.88, "type": "quantitative", "scale": {"domain": [0, 1]}, "axis": null}}},
   {"data": {"name": "ann"}, "transform": [{"filter": "datum.p == 'b4'"}],
    "mark": {"type": "text", "align": "left", "font": "Liberation Sans", "fontSize": 21},
    "encoding": {"text": {"field": "di"}, "x": {"datum": 0.083, "type": "quantitative", "scale": {"domain": [0, 1]}, "axis": null}, "y": {"datum": 0.728, "type": "quantitative", "scale": {"domain": [0, 1]}, "axis": null}}}
  ],
  "resolve": {"scale": {"x": "independent", "y": "independent"}}},

 {"width": 186, "height": 143, "data": {"name": "txt"},
  "layer": [
   {"transform": [{"filter": "datum.id == 'sup'"}], "mark": {"type": "text", "fontSize": 20, "align": "right"},
    "encoding": {"text": {"field": "t"}, "x": {"datum": 1.156, "type": "quantitative", "scale": {"domain": [0, 1]}, "axis": null}, "y": {"datum": 0.448, "type": "quantitative", "scale": {"domain": [0, 1]}, "axis": null}}},
   {"transform": [{"filter": "datum.id == 'lp'"}], "mark": {"type": "text", "fontSize": 20, "align": "right"},
    "encoding": {"text": {"field": "t"}, "x": {"datum": 1.129, "type": "quantitative", "scale": {"domain": [0, 1]}, "axis": null}, "y": {"datum": 0.084, "type": "quantitative", "scale": {"domain": [0, 1]}, "axis": null}}}
  ]},
 {"width": 168, "height": 143, "data": {"name": "txt"}, "transform": [{"filter": "datum.id == 'none'"}],
  "mark": {"type": "text", "fontSize": 20},
  "encoding": {"text": {"field": "t"}, "x": {"datum": 0.446, "type": "quantitative", "scale": {"domain": [0, 1]}, "axis": null}, "y": {"datum": 0.448, "type": "quantitative", "scale": {"domain": [0, 1]}, "axis": null}}},
 {"width": 168, "height": 143, "data": {"name": "txt"},
  "layer": [
   {"transform": [{"filter": "datum.id == 'cfse'"}], "mark": {"type": "text", "fontSize": 23, "font": "Liberation Sans"},
    "encoding": {"text": {"field": "t"}, "x": {"datum": 0.494, "type": "quantitative", "scale": {"domain": [0, 1]}, "axis": null}, "y": {"datum": 0.692, "type": "quantitative", "scale": {"domain": [0, 1]}, "axis": null}}},
   {"transform": [{"filter": "datum.id == 'nf'"}], "mark": {"type": "text", "fontSize": 20},
    "encoding": {"text": {"field": "t"}, "x": {"datum": 1.149, "type": "quantitative", "scale": {"domain": [0, 1]}, "axis": null}, "y": {"datum": 0.448, "type": "quantitative", "scale": {"domain": [0, 1]}, "axis": null}}},
   {"transform": [{"filter": "datum.id == 'nf'"}], "mark": {"type": "rule", "color": "#000", "strokeWidth": 1.5},
    "encoding": {"x": {"datum": -0.036, "type": "quantitative", "scale": {"domain": [0, 1]}, "axis": null}, "x2": {"datum": 2.369}, "y": {"datum": 0.315, "type": "quantitative", "scale": {"domain": [0, 1]}, "axis": null}}},
   {"transform": [{"filter": "datum.id == 'minus'"}], "mark": {"type": "text", "fontSize": 20},
    "encoding": {"text": {"field": "t"}, "x": {"datum": 0.464, "type": "quantitative", "scale": {"domain": [0, 1]}, "axis": null}, "y": {"datum": 0.07, "type": "quantitative", "scale": {"domain": [0, 1]}, "axis": null}}},
   {"transform": [{"filter": "datum.id == 'plus1'"}], "mark": {"type": "text", "fontSize": 20},
    "encoding": {"text": {"field": "t"}, "x": {"datum": 1.833, "type": "quantitative", "scale": {"domain": [0, 1]}, "axis": null}, "y": {"datum": 0.07, "type": "quantitative", "scale": {"domain": [0, 1]}, "axis": null}}}
  ]},
 {"width": 168, "height": 143, "data": {"name": "txt"}, "transform": [{"filter": "datum.id == 'nothing'"}], "mark": "text", "encoding": {}},
 {"width": 168, "height": 143, "data": {"name": "txt"},
  "layer": [
   {"transform": [{"filter": "datum.id == 'ly'"}], "mark": {"type": "text", "fontSize": 20},
    "encoding": {"text": {"field": "t"}, "x": {"datum": 0.56, "type": "quantitative", "scale": {"domain": [0, 1]}, "axis": null}, "y": {"datum": 0.455, "type": "quantitative", "scale": {"domain": [0, 1]}, "axis": null}}},
   {"transform": [{"filter": "datum.id == 'cd11'"}], "mark": {"type": "text", "fontSize": 20},
    "encoding": {"text": {"field": "t"}, "x": {"datum": 0.56, "type": "quantitative", "scale": {"domain": [0, 1]}, "axis": null}, "y": {"datum": 0.259, "type": "quantitative", "scale": {"domain": [0, 1]}, "axis": null}}},
   {"transform": [{"filter": "datum.id == 'plus2'"}], "mark": {"type": "text", "fontSize": 20},
    "encoding": {"text": {"field": "t"}, "x": {"datum": 0.5, "type": "quantitative", "scale": {"domain": [0, 1]}, "axis": null}, "y": {"datum": 0.07, "type": "quantitative", "scale": {"domain": [0, 1]}, "axis": null}}}
  ]}
]
}
